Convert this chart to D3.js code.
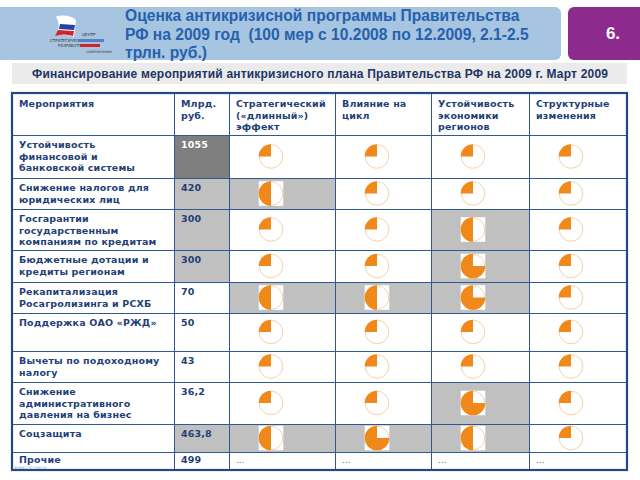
<!DOCTYPE html>
<html>
<head>
<meta charset="utf-8">
<script src="https://cdn.jsdelivr.net/npm/d3@7"></script>
<style>
  body { margin: 0; background: #fff; }
  text { font-family: "DejaVu Sans", Verdana, sans-serif; }
</style>
</head>
<body>
<svg id="chart" width="640" height="480"></svg>
<script>
// ---- data ----
let titleLines = ["Оценка антикризисной программы Правительства",
    "РФ на 2009 год  (100 мер с 10.2008 по 12.2009, 2.1-2.5",
    "трлн. руб.)"];
let subtitle = "Финансирование мероприятий антикризисного плана Правительства РФ на 2009 г. Март 2009";
let slideNo = "6.";

let headers = [
    ["Мероприятия"],
    ["Млрд.", "руб."],
    ["Стратегический", "(«длинный»)", "эффект"],
    ["Влияние на", "цикл"],
    ["Устойчивость", "экономики", "регионов"],
    ["Структурные", "изменения"]
];

let measures = [
    ["Устойчивость", "финансовой и", "банковской системы"],
    ["Снижение налогов для", "юридических лиц"],
    ["Госгарантии", "государственным", "компаниям по кредитам"],
    ["Бюджетные дотации и", "кредиты регионам"],
    ["Рекапитализация", "Росагролизинга и РСХБ"],
    ["Поддержка ОАО «РЖД»"],
    ["Вычеты по подоходному", "налогу"],
    ["Снижение", "административного", "давления на бизнес"],
    ["Соцзащита"],
    ["Прочие"]
];
let amounts = ["1055", "420", "300", "300", "70", "50", "43", "36,2", "463,8", "499"];
// shading of the amount cell: 2 = dark, 1 = light, 0 = none
let amountShade = [2, 1, 1, 1, 0, 0, 0, 0, 1, 0];

// effect score in quarters (1..4), null = "..."
let strategic  = [1, 2, 1, 1, 2, 1, 1, 1, 2, null];
let cycle      = [1, 1, 1, 1, 2, 1, 1, 1, 3, null];
let regions    = [1, 1, 2, 3, 3, 1, 1, 3, 2, null];
let structural = [1, 1, 1, 1, 1, 1, 1, 1, 1, null];
let effects = [strategic, cycle, regions, structural];

// ---- layout ----
const svg = d3.select("#chart");
const navy = "#1f3f78";
const orange = "#f0891a";
const lightGray = "#c0c0c0";
const darkGray = "#7f7f7f";

let colEdges = [12, 174, 229, 335, 431, 529, 627];
let rowEdges = [93, 135, 178, 209, 250, 282, 313, 351, 382, 424, 452, 470];

let colIdx = d3.range(colEdges.length);
let rowIdx = d3.range(rowEdges.length);
let x = d3.scaleOrdinal().domain(colIdx).range(colEdges);
let y = d3.scaleOrdinal().domain(rowIdx).range(rowEdges);
const lineH = 11.7;

// ---- header band ----
svg.append("rect")
    .attr("x", -8).attr("y", 7).attr("width", 569).attr("height", 53)
    .attr("rx", 6).attr("fill", "#a7c4e0");
svg.append("rect")
    .attr("x", 568).attr("y", 7).attr("width", 80).attr("height", 53)
    .attr("rx", 6).attr("fill", "#8c2a8e");
svg.append("text")
    .attr("x", 613).attr("y", 39)
    .attr("text-anchor", "middle")
    .style("font-family", "'Liberation Sans', Arial, sans-serif")
    .style("font-weight", "bold").style("font-size", "17px")
    .attr("fill", "#fff")
    .text(slideNo);

// logo (rough)
let logo = svg.append("g");
logo.append("path").attr("d", "M56,16 Q70,14 76,20 L74,37 Q64,33 55,36 Q62,28 56,16Z").attr("fill", "#fff");
logo.append("path").attr("d", "M60,24 L75,25 L74,30 L59,29Z").attr("fill", "#2b3f9e");
logo.append("path").attr("d", "M58,30 L74,31 L73,36 Q64,33 55,36Z").attr("fill", "#d2232a");
logo.append("text").attr("x", 82).attr("y", 36).style("font-size", "4px").attr("fill", "#333").text("ЦЕНТР");
logo.append("text").attr("x", 50).attr("y", 42).style("font-size", "4px").attr("fill", "#333").text("СТРАТЕГИЧЕСКИХ");
logo.append("rect").attr("x", 78).attr("y", 39).attr("width", 26).attr("height", 3).attr("fill", "#5a7fc0");
logo.append("text").attr("x", 58).attr("y", 47).style("font-size", "4px").attr("fill", "#333").text("РАЗРАБОТОК");
logo.append("rect").attr("x", 80).attr("y", 44).attr("width", 20).attr("height", 3).attr("fill", "#d2232a");
logo.append("text").attr("x", 86).attr("y", 53).style("font-size", "3px").attr("fill", "#333").text("СОВРЕМЕННИКИ");

svg.append("g").selectAll("text")
    .data(titleLines)
    .join("text")
    .attr("x", 125)
    .attr("y", (d, i) => 21 + i * 18.5)
    .style("font-family", "'Liberation Sans', Arial, sans-serif")
    .style("font-weight", "bold").style("font-size", "15.6px")
    .style("white-space", "pre")
    .attr("fill", "#2561ad")
    .text(d => d);

// subtitle band
svg.append("rect")
    .attr("x", 12).attr("y", 63).attr("width", 615).attr("height", 21)
    .attr("fill", "#ebebeb");
svg.append("text")
    .attr("x", 32).attr("y", 78)
    .style("font-family", "'Liberation Sans', Arial, sans-serif")
    .style("font-weight", "bold").style("font-size", "12px")
    .attr("fill", "#1c3563")
    .attr("textLength", 576)
    .text(subtitle);

// ---- table cells ----
let table = svg.append("g");

// amount cell fills
table.selectAll(".amt-bg")
    .data(amounts)
    .join("rect")
    .attr("class", "amt-bg")
    .attr("x", x(1)).attr("y", (d, i) => y(i + 1))
    .attr("width", x(2) - x(1))
    .attr("height", (d, i) => y(i + 2) - y(i + 1))
    .attr("fill", (d, i) => amountShade[i] == 2 ? darkGray : amountShade[i] == 1 ? lightGray : "#fff");

// effect cells
let cells = [];
effects.forEach((series, c) => {
    series.forEach((v, r) => cells.push({ col: c + 2, row: r + 1, v: v }));
});

table.selectAll(".eff-bg")
    .data(cells.filter(d => d.v >= 2))
    .join("rect")
    .attr("class", "eff-bg")
    .attr("x", d => x(d.col)).attr("y", d => y(d.row))
    .attr("width", d => x(d.col + 1) - x(d.col))
    .attr("height", d => y(d.row + 1) - y(d.row))
    .attr("fill", lightGray);

// harvey balls
const r = 12.3;
let arc = d3.arc().innerRadius(0).outerRadius(r);
let balls = table.selectAll(".ball")
    .data(cells.filter(d => d.v != null))
    .join("g")
    .attr("class", "ball")
    .attr("transform", d => `translate(${x(d.col) + 42},${(y(d.row) + y(d.row + 1)) / 2})`);

balls.filter(d => d.v >= 2)
    .append("rect")
    .attr("x", -r).attr("y", -r).attr("width", 2 * r).attr("height", 2 * r)
    .attr("fill", "#fff");
balls.append("circle")
    .attr("r", r - 0.5)
    .attr("fill", "#fff")
    .attr("stroke", "#f3d3a6").attr("stroke-width", 1);
balls.append("path")
    .attr("d", d => arc({ startAngle: -d.v * Math.PI / 2, endAngle: 0 }))
    .attr("fill", orange);

// "..." placeholders
table.selectAll(".dots")
    .data(cells.filter(d => d.v == null))
    .join("text")
    .attr("class", "dots")
    .attr("x", d => x(d.col) + 7)
    .attr("y", d => y(d.row) + 11)
    .style("font-size", "9px")
    .attr("fill", "#666")
    .text("...");

// ---- grid lines ----
let grid = svg.append("g").attr("stroke", "#2d5a96").attr("stroke-width", 1);
grid.selectAll(".h")
    .data(rowIdx.slice(1, -1))
    .join("line")
    .attr("x1", colEdges[0]).attr("x2", colEdges[colEdges.length - 1])
    .attr("y1", d => y(d) + 0.5).attr("y2", d => y(d) + 0.5);
grid.selectAll(".v")
    .data(colIdx.slice(1, -1))
    .join("line")
    .attr("x1", d => x(d) + 0.5).attr("x2", d => x(d) + 0.5)
    .attr("y1", rowEdges[0]).attr("y2", rowEdges[rowEdges.length - 1]);
svg.append("rect")
    .attr("x", colEdges[0]).attr("y", rowEdges[0])
    .attr("width", colEdges[colEdges.length - 1] - colEdges[0])
    .attr("height", rowEdges[rowEdges.length - 1] - rowEdges[0])
    .attr("fill", "none").attr("stroke", "#1f4a86").attr("stroke-width", 2.2);

// ---- cell texts ----
function addLines(sel, lines, x0, y0, color) {
    sel.append("text")
        .attr("x", x0).attr("y", y0)
        .style("font-size", "9.5px").style("font-weight", "bold")
        .style("letter-spacing", "0.15px")
        .attr("fill", color)
        .selectAll("tspan")
        .data(lines)
        .join("tspan")
        .attr("x", x0)
        .attr("dy", (d, i) => i == 0 ? 0 : lineH)
        .text(d => d);
}

headers.forEach((h, c) => addLines(svg, h, x(c) + 7, y(0) + 14, navy));
measures.forEach((m, i) => addLines(svg, m, x(0) + 7, y(i + 1) + (i == 9 ? 11 : 13), navy));
amounts.forEach((a, i) => addLines(svg, [a], x(1) + 7, y(i + 1) + (i == 9 ? 11 : 13), amountShade[i] == 2 ? "#fff" : navy));

// faint site watermark
svg.append("text")
    .attr("x", 14).attr("y", 468.5)
    .style("font-size", "4.5px")
    .attr("fill", "#9aaccc")
    .text("www.csr-nw.ru");
</script>
</body>
</html>
